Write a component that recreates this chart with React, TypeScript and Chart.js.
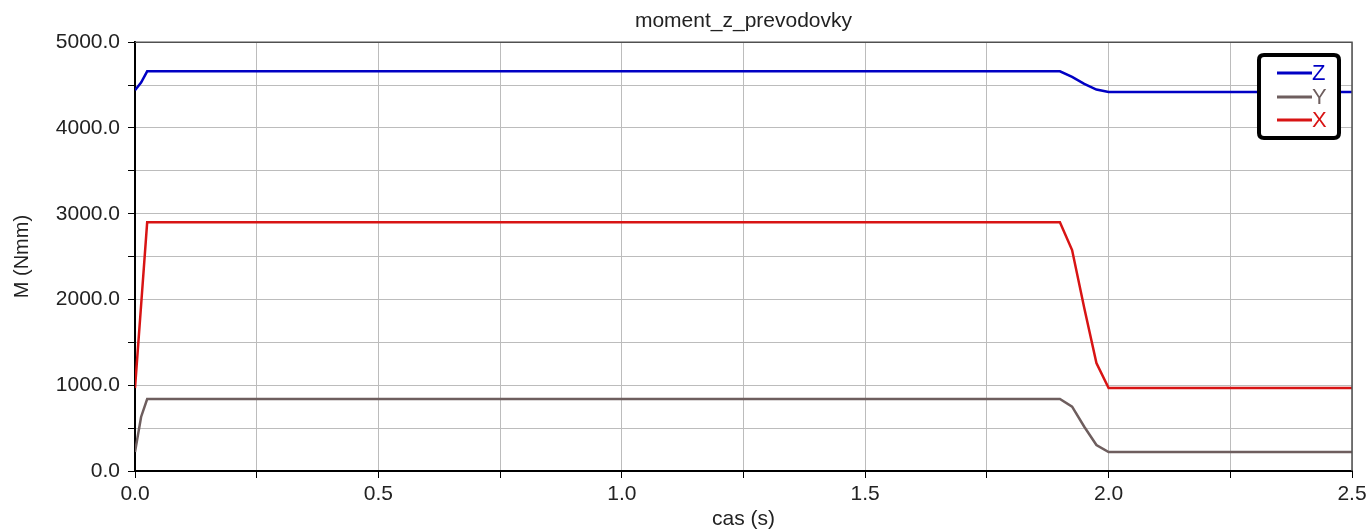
import React, { useEffect, useRef } from "react";
import { Chart, registerables } from "chart.js";

Chart.register(...registerables);

const TITLE = "moment_z_prevodovky";
const X_TITLE = "cas (s)";
const Y_TITLE = "M (Nmm)";

const times = [0, 0.0125, 0.025, 1.9, 1.925, 1.95, 1.975, 2.0, 2.5];
const seriesZ = [4440, 4530, 4660, 4660, 4595, 4515, 4448, 4420, 4420];
const seriesY = [221, 630, 839, 839, 750, 516, 303, 221, 221];
const seriesX = [967, 1930, 2900, 2900, 2576, 1900, 1259, 967, 967];

const legendNames = ["Z", "Y", "X"];
const colors = ["#0000c4", "#6e5e5e", "#d81414"];

const FONT = "'Liberation Sans', Arial, sans-serif";

const legendPlugin = {
  id: "customLegendAndFrame",
  afterDraw(chart: any) {
    const ctx = chart.ctx;
    const a = chart.chartArea;
    ctx.save();
    // top/right frame
    ctx.strokeStyle = "#505050";
    ctx.lineWidth = 1.5;
    ctx.beginPath();
    ctx.moveTo(a.left, a.top);
    ctx.lineTo(a.right, a.top);
    ctx.lineTo(a.right, a.bottom);
    ctx.stroke();

    // legend box
    const x0 = 1259, y0 = 55, w = 80, h = 83, r = 5;
    ctx.beginPath();
    ctx.moveTo(x0 + r, y0);
    ctx.lineTo(x0 + w - r, y0);
    ctx.quadraticCurveTo(x0 + w, y0, x0 + w, y0 + r);
    ctx.lineTo(x0 + w, y0 + h - r);
    ctx.quadraticCurveTo(x0 + w, y0 + h, x0 + w - r, y0 + h);
    ctx.lineTo(x0 + r, y0 + h);
    ctx.quadraticCurveTo(x0, y0 + h, x0, y0 + h - r);
    ctx.lineTo(x0, y0 + r);
    ctx.quadraticCurveTo(x0, y0, x0 + r, y0);
    ctx.closePath();
    ctx.fillStyle = "#ffffff";
    ctx.fill();
    ctx.lineWidth = 4;
    ctx.strokeStyle = "#000000";
    ctx.stroke();

    const rows = [73, 97, 120];
    ctx.font = `22px ${FONT}`;
    ctx.textBaseline = "middle";
    ctx.textAlign = "left";
    legendNames.forEach((name, i) => {
      ctx.strokeStyle = colors[i];
      ctx.lineWidth = 3;
      ctx.beginPath();
      ctx.moveTo(1277, rows[i]);
      ctx.lineTo(1312, rows[i]);
      ctx.stroke();
      ctx.fillStyle = colors[i];
      ctx.fillText(name, 1312, rows[i] + 1);
    });
    ctx.restore();
  },
};

export default function App() {
  const ref = useRef<HTMLCanvasElement>(null);

  useEffect(() => {
    if (!ref.current) return;
    const seriesList = [seriesZ, seriesY, seriesX];
    const chart = new Chart(ref.current, {
      type: "line",
      data: {
        datasets: seriesList.map((s, i) => ({
          label: legendNames[i],
          data: times.map((t, j) => ({ x: t, y: s[j] })),
          borderColor: colors[i],
          backgroundColor: colors[i],
          borderWidth: 2.5,
          pointRadius: 0,
          tension: 0,
          fill: false,
        })),
      },
      options: {
        animation: false,
        responsive: false,
        devicePixelRatio: 1,
        layout: { padding: { top: 0, right: 16, bottom: 0, left: 0 } },
        plugins: {
          legend: { display: false },
          tooltip: { enabled: false },
          title: {
            display: true,
            fullSize: false,
            text: TITLE,
            color: "#222",
            font: { family: FONT, size: 21, weight: "normal", lineHeight: 1.2 },
            padding: { top: 9, bottom: 8 },
          },
        },
        scales: {
          x: {
            type: "linear",
            min: 0,
            max: 2.5,
            afterFit(scale: any) {
              scale.height = 59;
              scale.paddingLeft = 0;
              scale.paddingRight = 0;
            },
            ticks: {
              stepSize: 0.25,
              autoSkip: false,
              maxRotation: 0,
              padding: 4,
              color: "#222",
              font: { family: FONT, size: 21 },
              callback: (v: any) => {
                const n = Number(v);
                return Math.abs(n * 2 - Math.round(n * 2)) < 1e-6 ? n.toFixed(1) : "";
              },
            },
            grid: {
              color: "#bcbcbc",
              lineWidth: 1,
              tickColor: "#000",
              tickLength: 7,
            },
            border: { color: "#000", width: 2 },
            title: {
              display: true,
              text: X_TITLE,
              color: "#222",
              font: { family: FONT, size: 21, lineHeight: 1 },
              padding: { top: 0, bottom: 0 },
            },
          },
          y: {
            type: "linear",
            min: 0,
            max: 5000,
            afterFit(scale: any) {
              scale.width = 135;
              scale.paddingTop = 0;
              scale.paddingBottom = 0;
            },
            ticks: {
              stepSize: 500,
              autoSkip: false,
              padding: 8,
              color: "#222",
              font: { family: FONT, size: 21 },
              callback: (v: any) => {
                const n = Number(v);
                return n % 1000 === 0 ? n.toFixed(1) : "";
              },
            },
            grid: {
              color: "#bcbcbc",
              lineWidth: 1,
              tickColor: "#000",
              tickLength: 7,
            },
            border: { color: "#000", width: 2 },
            title: {
              display: true,
              text: Y_TITLE,
              color: "#222",
              font: { family: FONT, size: 20, lineHeight: 1 },
              padding: { top: 12, bottom: 0 },
            },
          },
        },
      },
      plugins: [legendPlugin],
    } as any);
    return () => chart.destroy();
  }, []);

  return (
    <div style={{ position: "fixed", left: 0, top: 0, width: 1368, height: 530, background: "#fff" }}>
      <canvas ref={ref} width={1368} height={530} style={{ display: "block" }} />
    </div>
  );
}
